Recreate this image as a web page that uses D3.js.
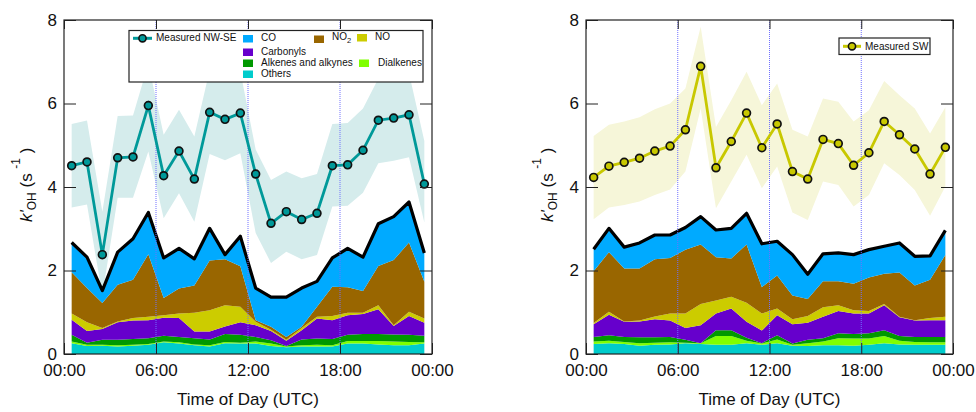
<!DOCTYPE html>
<html>
<head>
<meta charset="utf-8">
<script src="https://cdn.jsdelivr.net/npm/d3@7"></script>
<style>
  body { margin: 0; background: #fff; }
  svg { font-family: "Liberation Sans", Arial, Helvetica, sans-serif; }
</style>
</head>
<body>
<div id="chart"></div>
<script>
var hours = [0.5,1.5,2.5,3.5,4.5,5.5,6.5,7.5,8.5,9.5,10.5,11.5,12.5,13.5,14.5,15.5,16.5,17.5,18.5,19.5,20.5,21.5,22.5,23.5]
var xTickValues = [0, 6, 12, 18, 24]
var xTickLabels = ['00:00', '06:00', '12:00', '18:00', '00:00']
var yTickValues = [0, 2, 4, 6, 8]

// measured k'OH, NW-SE wind sector, with its shaded range
var nwseMeasured = [4.51,4.60,2.38,4.70,4.72,5.95,4.27,4.86,4.19,5.79,5.62,5.77,4.31,3.13,3.41,3.22,3.37,4.51,4.53,4.88,5.60,5.65,5.73,4.07]
var nwseUpper = [5.51,5.59,3.41,5.70,5.71,6.95,5.25,5.85,5.21,6.80,6.62,6.77,4.90,4.17,4.37,4.21,4.31,5.51,5.53,5.88,6.60,6.66,6.73,5.10]
var nwseLower = [3.51,3.58,1.40,3.74,3.74,4.85,3.25,3.85,3.17,4.79,4.64,4.81,2.90,2.18,2.45,2.27,2.37,3.53,3.55,3.86,4.57,4.63,4.71,3.15]

// calculated contributions, NW-SE
var nwseOthers = [0.26,0.19,0.20,0.18,0.20,0.22,0.28,0.25,0.21,0.18,0.26,0.25,0.25,0.19,0.16,0.18,0.18,0.18,0.25,0.25,0.23,0.21,0.21,0.25]
var nwseDialkenes = [0.04,0.03,0.02,0.03,0.02,0.02,0.02,0.03,0.02,0.03,0.03,0.02,0.05,0.06,0.02,0.03,0.04,0.03,0.06,0.06,0.08,0.09,0.08,0.03]
var nwseAlkenes = [0.16,0.05,0.12,0.13,0.14,0.14,0.14,0.13,0.15,0.14,0.19,0.19,0.11,0.08,0.01,0.14,0.15,0.15,0.15,0.17,0.17,0.17,0.17,0.16]
var nwseCarbonyls = [0.36,0.28,0.26,0.42,0.44,0.43,0.43,0.45,0.16,0.19,0.18,0.30,0.28,0.22,0.13,0.22,0.48,0.45,0.47,0.48,0.59,0.20,0.45,0.31]
var nwseNO = [0.15,0.21,0.02,0.02,0.06,0.08,0.06,0.11,0.45,0.51,0.51,0.37,0.08,0.03,0.02,0.05,0.04,0.10,0.06,0.03,0.10,0.02,0.10,0.10]
var nwseNO2 = [0.99,0.82,0.60,0.88,0.92,1.50,0.41,0.60,0.65,1.19,1.10,0.97,0.04,0.07,0.07,0.03,0.24,0.70,0.61,0.52,0.94,1.56,1.66,0.88]
var nwseCO = [0.71,0.74,0.30,0.78,0.98,1.00,0.96,0.96,0.64,0.77,0.11,0.72,0.77,0.71,0.95,0.93,0.61,0.69,0.93,0.81,1.01,1.04,0.97,0.69]

// measured k'OH, SW wind sector
var swMeasured = [4.23,4.50,4.59,4.69,4.86,4.98,5.37,6.89,4.46,5.09,5.77,4.94,5.51,4.37,4.19,5.14,5.04,4.52,4.82,5.57,5.25,4.91,4.31,4.95]
var swUpper = [5.22,5.49,5.57,5.67,5.86,6.00,6.36,7.84,5.44,6.08,6.76,5.96,6.48,5.37,5.21,6.12,6.04,5.57,5.84,6.54,6.20,5.88,5.28,5.91]
var swLower = [3.23,3.51,3.57,3.65,3.81,3.94,4.37,5.88,3.49,4.13,4.77,3.97,4.49,3.39,3.21,4.13,4.05,3.53,3.81,4.57,4.29,3.93,3.31,4.01]

// calculated contributions, SW
var swOthers = [0.24,0.26,0.24,0.20,0.22,0.23,0.26,0.24,0.22,0.22,0.26,0.22,0.26,0.20,0.19,0.21,0.21,0.20,0.22,0.26,0.23,0.22,0.22,0.22]
var swDialkenes = [0.06,0.06,0.05,0.06,0.05,0.05,0.01,0.02,0.21,0.21,0.06,0.03,0.09,0.02,0.07,0.09,0.17,0.17,0.15,0.17,0.09,0.07,0.06,0.06]
var swAlkenes = [0.11,0.13,0.12,0.14,0.13,0.13,0.07,0.00,0.14,0.14,0.07,0.01,0.10,0.03,0.08,0.08,0.12,0.11,0.13,0.14,0.11,0.12,0.13,0.13]
var swCarbonyls = [0.30,0.49,0.36,0.38,0.43,0.39,0.28,0.43,0.40,0.52,0.38,0.30,0.48,0.46,0.41,0.51,0.53,0.49,0.47,0.60,0.45,0.39,0.40,0.40]
var swNO = [0.03,0.07,0.01,0.02,0.07,0.17,0.35,0.51,0.31,0.28,0.46,0.41,0.16,0.12,0.16,0.23,0.14,0.08,0.06,0.03,0.01,0.01,0.05,0.08]
var swNO2 = [1.24,1.43,1.27,1.25,1.37,1.33,1.53,1.42,1.04,0.92,1.39,0.63,0.79,0.57,0.41,0.62,0.57,0.63,0.80,0.72,1.06,0.83,0.92,1.48]
var swCO = [0.53,0.57,0.51,0.61,0.58,0.55,0.53,0.67,0.65,0.72,0.75,1.04,0.82,0.98,0.59,0.66,0.68,0.70,0.67,0.66,0.71,0.70,0.57,0.59]

// stacking order, bottom to top
var speciesKeys = ['others', 'dialkenes', 'alkenes', 'carbonyls', 'no', 'no2', 'co']
var speciesColors = {
  others: '#00cccc', dialkenes: '#80ff00', alkenes: '#009900', carbonyls: '#6600cc',
  no: '#cccc00', no2: '#996600', co: '#00aaff'
}

var fullWidth = 976
var fullHeight = 412

var svg = d3.select('#chart')
  .append('svg')
    .attr('width', fullWidth)
    .attr('height', fullHeight)

function drawPanel(p) {
  var x = d3.scaleLinear().domain([0, 24]).range([p.left, p.right])
  var y = d3.scaleLinear().domain([0, 8]).range([p.bottom, p.top])

  svg.append('clipPath')
    .attr('id', 'clip-' + p.id)
    .append('rect')
      .attr('x', p.left)
      .attr('y', p.top)
      .attr('width', p.right - p.left)
      .attr('height', p.bottom - p.top)

  var plot = svg.append('g').attr('clip-path', 'url(#clip-' + p.id + ')')

  plot.append('path')
    .datum(hours)
    .attr('fill', p.bandColor)
    .attr('d', d3.area()
      .x(function(d) { return x(d) })
      .y0(function(d, i) { return y(p.lower[i]) })
      .y1(function(d, i) { return y(p.upper[i]) }))

  var rows = hours.map(function(h, i) {
    var row = {hour: h}
    speciesKeys.forEach(function(k) { row[k] = p.stacks[k][i] })
    return row
  })
  var series = d3.stack().keys(speciesKeys)(rows)

  plot.selectAll('.layer')
    .data(series)
    .enter().append('path')
      .attr('class', 'layer')
      .attr('fill', function(d) { return speciesColors[d.key] })
      .attr('d', d3.area()
        .x(function(d) { return x(d.data.hour) })
        .y0(function(d) { return y(d[0]) })
        .y1(function(d) { return y(d[1]) }))

  // total of all contributions
  plot.append('path')
    .datum(series[series.length - 1])
    .attr('fill', 'none')
    .attr('stroke', '#000')
    .attr('stroke-width', 3.2)
    .attr('stroke-linejoin', 'round')
    .attr('d', d3.line()
      .x(function(d) { return x(d.data.hour) })
      .y(function(d) { return y(d[1]) }))

  plot.selectAll('.vline')
    .data([6, 12, 18])
    .enter().append('line')
      .attr('x1', function(d) { return x(d) })
      .attr('x2', function(d) { return x(d) })
      .attr('y1', p.top)
      .attr('y2', p.bottom)
      .attr('stroke', '#7070ff')
      .attr('stroke-width', 1)
      .attr('stroke-dasharray', '1,1')

  plot.append('path')
    .datum(p.measured)
    .attr('fill', 'none')
    .attr('stroke', p.lineColor)
    .attr('stroke-width', 2.8)
    .attr('d', d3.line()
      .x(function(d, i) { return x(hours[i]) })
      .y(function(d) { return y(d) }))

  plot.selectAll('.dot')
    .data(p.measured)
    .enter().append('circle')
      .attr('cx', function(d, i) { return x(hours[i]) })
      .attr('cy', function(d) { return y(d) })
      .attr('r', 3.9)
      .attr('fill', p.lineColor)
      .attr('stroke', '#111')
      .attr('stroke-width', 1.7)

  // axes
  var bottomAxis = svg.append('g')
    .attr('transform', 'translate(0,' + p.bottom + ')')
    .call(d3.axisBottom(x).tickValues(xTickValues)
      .tickFormat(function(d, i) { return xTickLabels[i] })
      .tickSize(-11).tickPadding(10))
  svg.append('g')
    .attr('transform', 'translate(0,' + p.top + ')')
    .call(d3.axisTop(x).tickValues(xTickValues).tickFormat('').tickSize(-9))
  var leftAxis = svg.append('g')
    .attr('transform', 'translate(' + p.left + ',0)')
    .call(d3.axisLeft(y).tickValues(yTickValues).tickSize(-12).tickPadding(7))
  svg.append('g')
    .attr('transform', 'translate(' + p.right + ',0)')
    .call(d3.axisRight(y).tickValues(yTickValues).tickFormat('').tickSize(-12))

  svg.selectAll('.domain').remove()
  svg.selectAll('.tick line').attr('stroke', '#222')
  bottomAxis.selectAll('text').attr('font-size', 17).attr('fill', '#111').attr('font-family', null)
  leftAxis.selectAll('text').attr('font-size', 17).attr('fill', '#111').attr('font-family', null)
  bottomAxis.attr('font-family', null)
  leftAxis.attr('font-family', null)

  svg.append('rect')
    .attr('x', p.left)
    .attr('y', p.top)
    .attr('width', p.right - p.left)
    .attr('height', p.bottom - p.top)
    .attr('fill', 'none')
    .attr('stroke', '#222')
    .attr('stroke-width', 1.2)

  svg.append('text')
    .attr('x', (p.left + p.right) / 2)
    .attr('y', 405)
    .attr('text-anchor', 'middle')
    .attr('font-size', 17)
    .attr('fill', '#111')
    .text('Time of Day (UTC)')

  var title = svg.append('text')
    .attr('transform', 'translate(' + p.titleX + ',222) rotate(-90)')
    .attr('font-size', 17)
    .attr('fill', '#111')
  title.append('tspan').attr('font-style', 'italic').text("k'")
  title.append('tspan').attr('font-size', 12).attr('dy', 3.5).text('OH')
  title.append('tspan').attr('dy', -3.5).text(' (s ')
  title.append('tspan').attr('font-size', 12).attr('dy', -12).text('-1')
  title.append('tspan').attr('dy', 12).text(' )')

  p.legend(x, y)
}

function legendMarker(g, x0, x1, cy, color) {
  g.append('line')
    .attr('x1', x0).attr('x2', x1).attr('y1', cy).attr('y2', cy)
    .attr('stroke', color).attr('stroke-width', 3)
  g.append('circle')
    .attr('cx', (x0 + x1) / 2).attr('cy', cy).attr('r', 3.6)
    .attr('fill', color).attr('stroke', '#111').attr('stroke-width', 1.6)
}

function nwseLegend() {
  var g = svg.append('g').attr('font-size', 10).attr('fill', '#111')
  g.append('rect')
    .attr('x', 129).attr('y', 30.5).attr('width', 294).attr('height', 51.5)
    .attr('fill', '#fff').attr('stroke', '#222').attr('stroke-width', 1.2)
  legendMarker(g, 133, 152, 38.3, '#009999')
  g.append('text').attr('x', 156).attr('y', 41).text('Measured NW-SE')

  var entries = [
    {key: 'co', label: 'CO', sx: 243, tx: 261, base: 41},
    {key: 'no2', label: 'NO', sub: '2', sx: 314, tx: 332, base: 40},
    {key: 'no', label: 'NO', sx: 357, tx: 375, base: 40},
    {key: 'carbonyls', label: 'Carbonyls', sx: 243, tx: 261, base: 54.5},
    {key: 'alkenes', label: 'Alkenes and alkynes', sx: 243, tx: 261, base: 65.5},
    {key: 'dialkenes', label: 'Dialkenes', sx: 359, tx: 378, base: 65.5},
    {key: 'others', label: 'Others', sx: 243, tx: 261, base: 76.5}
  ]
  entries.forEach(function(e) {
    g.append('rect')
      .attr('x', e.sx).attr('y', e.base - 6 + (e.sub ? 1.5 : 0)).attr('width', 10).attr('height', 7.5)
      .attr('fill', speciesColors[e.key])
    var t = g.append('text').attr('x', e.tx).attr('y', e.base)
    t.append('tspan').text(e.label)
    if (e.sub) t.append('tspan').attr('font-size', 7.5).attr('dy', 3).text(e.sub)
  })
}

function swLegend() {
  var g = svg.append('g').attr('font-size', 10).attr('fill', '#111')
  g.append('rect')
    .attr('x', 839).attr('y', 38).attr('width', 91).attr('height', 16.5)
    .attr('fill', '#fff').attr('stroke', '#222').attr('stroke-width', 1.2)
  legendMarker(g, 843, 861, 46.3, '#c8c800')
  g.append('text').attr('x', 865).attr('y', 49.5).text('Measured SW')
}

drawPanel({
  id: 'nwse', left: 64, right: 432, top: 20, bottom: 354, titleX: 32,
  measured: nwseMeasured, upper: nwseUpper, lower: nwseLower,
  stacks: {others: nwseOthers, dialkenes: nwseDialkenes, alkenes: nwseAlkenes,
    carbonyls: nwseCarbonyls, no: nwseNO, no2: nwseNO2, co: nwseCO},
  lineColor: '#009999', bandColor: '#d5ecec', legend: nwseLegend
})

drawPanel({
  id: 'sw', left: 586, right: 953, top: 20, bottom: 354, titleX: 553,
  measured: swMeasured, upper: swUpper, lower: swLower,
  stacks: {others: swOthers, dialkenes: swDialkenes, alkenes: swAlkenes,
    carbonyls: swCarbonyls, no: swNO, no2: swNO2, co: swCO},
  lineColor: '#c8c800', bandColor: '#f6f6d9', legend: swLegend
})
</script>
</body>
</html>
